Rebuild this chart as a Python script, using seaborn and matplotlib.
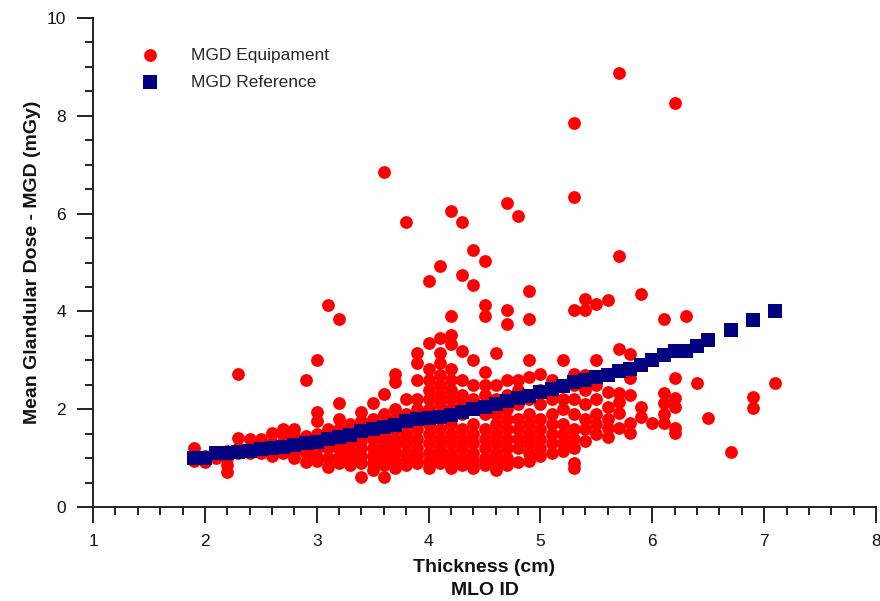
import matplotlib
matplotlib.use("Agg")
import matplotlib.pyplot as plt
from matplotlib.ticker import MultipleLocator
import pandas as pd
import seaborn as sns

# Reference MGD curve (one value per thickness)
ref_thickness = [1.9, 2.0, 2.1, 2.2, 2.3, 2.4, 2.5, 2.6, 2.7, 2.8, 2.9, 3.0, 3.1, 3.2,
                 3.3, 3.4, 3.5, 3.6, 3.7, 3.8, 3.9, 4.0, 4.1, 4.2, 4.3, 4.4, 4.5, 4.6,
                 4.7, 4.8, 4.9, 5.0, 5.1, 5.2, 5.3, 5.4, 5.5, 5.6, 5.7, 5.8, 5.9, 6.0,
                 6.1, 6.2, 6.3, 6.4, 6.5, 6.7, 6.9, 7.1]
ref_mgd = [1.0, 1.0, 1.1, 1.1, 1.12, 1.15, 1.18, 1.2, 1.22, 1.27, 1.3, 1.33, 1.4, 1.43,
           1.48, 1.55, 1.6, 1.63, 1.68, 1.75, 1.8, 1.82, 1.85, 1.88, 1.95, 2.0, 2.05, 2.1,
           2.17, 2.22, 2.28, 2.35, 2.42, 2.48, 2.55, 2.6, 2.66, 2.7, 2.78, 2.83, 2.9, 3.0,
           3.1, 3.2, 3.2, 3.3, 3.42, 3.62, 3.82, 4.0]

# Measured MGD of the equipment, grouped by thickness
equip_thickness = [1.9, 2.0, 2.1, 2.2, 2.3, 2.4, 2.5, 2.6, 2.7, 2.8, 2.9, 3.0, 3.1, 3.2,
                   3.3, 3.4, 3.5, 3.6, 3.7, 3.8, 3.9, 4.0, 4.1, 4.2, 4.3, 4.4, 4.5, 4.6,
                   4.7, 4.8, 4.9, 5.0, 5.1, 5.2, 5.3, 5.4, 5.5, 5.6, 5.7, 5.8, 5.9, 6.0,
                   6.1, 6.2, 6.3, 6.4, 6.5, 6.7, 6.9, 7.1]
equip_mgd = [
    [1.2, 1.0, 0.95],
    [1.05, 0.93],
    [1.1, 1.0],
    [1.15, 1.0, 0.85, 0.72],
    [2.72, 1.42, 1.2, 1.1],
    [1.4, 1.2, 1.1],
    [1.4, 1.3, 1.1],
    [1.52, 1.3, 1.15, 1.05],
    [1.6, 1.48, 1.3, 1.1],
    [1.6, 1.45, 1.25, 1.1, 1.0],
    [2.6, 1.45, 1.3, 1.1, 0.93],
    [3.0, 1.95, 1.75, 1.5, 1.3, 1.2, 1.03, 0.95],
    [4.13, 1.6, 1.4, 1.2, 1.0, 0.82],
    [3.84, 2.13, 1.8, 1.6, 1.4, 1.2, 1.05, 0.9],
    [1.7, 1.5, 1.3, 1.15, 1.0, 0.85],
    [1.95, 1.75, 1.55, 1.35, 1.2, 1.05, 0.9, 0.62],
    [2.12, 1.8, 1.6, 1.4, 1.2, 1.05, 0.9, 0.76],
    [6.85, 2.32, 1.9, 1.7, 1.5, 1.3, 1.15, 1.0, 0.85, 0.62],
    [2.73, 2.55, 2.0, 1.8, 1.6, 1.4, 1.25, 1.1, 0.95, 0.8],
    [5.83, 2.2, 1.9, 1.7, 1.5, 1.3, 1.1, 0.95, 0.85],
    [3.14, 2.94, 2.6, 2.2, 2.0, 1.8, 1.6, 1.4, 1.2, 1.05, 0.9],
    [4.62, 3.35, 2.83, 2.6, 2.4, 2.2, 2.0, 1.7, 1.5, 1.3, 1.1, 0.95, 0.8],
    [4.92, 3.45, 3.14, 2.94, 2.7, 2.5, 2.3, 2.1, 1.9, 1.6, 1.4, 1.2, 1.05, 0.9],
    [6.05, 3.91, 3.52, 3.33, 2.83, 2.6, 2.4, 2.2, 2.0, 1.7, 1.5, 1.3, 1.1, 0.95, 0.8],
    [5.83, 4.75, 3.2, 2.6, 2.3, 2.1, 1.9, 1.6, 1.4, 1.2, 1.0, 0.85],
    [5.26, 4.53, 3.0, 2.5, 2.2, 2.0, 1.7, 1.5, 1.3, 1.1, 0.95, 0.8],
    [5.04, 4.13, 3.91, 2.77, 2.5, 2.3, 2.1, 1.9, 1.6, 1.4, 1.2, 1.0, 0.85],
    [3.14, 2.5, 2.2, 1.9, 1.7, 1.5, 1.3, 1.1, 0.95, 0.76],
    [6.22, 4.03, 3.74, 2.6, 2.3, 2.0, 1.8, 1.6, 1.4, 1.2, 1.0, 0.85],
    [5.95, 2.6, 2.4, 2.1, 1.8, 1.6, 1.4, 1.2, 0.93],
    [4.42, 3.84, 3.0, 2.66, 2.2, 1.9, 1.7, 1.5, 1.3, 1.1, 0.95],
    [2.73, 2.4, 2.1, 1.8, 1.6, 1.4, 1.2, 1.05],
    [2.6, 2.2, 1.9, 1.7, 1.5, 1.3, 1.1],
    [3.0, 2.5, 2.2, 2.0, 1.7, 1.5, 1.3, 1.15],
    [7.85, 6.33, 4.03, 2.73, 2.5, 2.2, 1.9, 1.6, 1.4, 1.2, 0.89, 0.8],
    [4.25, 4.03, 2.7, 2.4, 2.1, 1.8, 1.6, 1.35],
    [4.15, 3.0, 2.5, 2.2, 1.9, 1.7, 1.5],
    [4.23, 2.36, 2.05, 1.8, 1.61, 1.44],
    [8.87, 5.13, 3.24, 2.33, 2.15, 1.93, 1.61],
    [3.13, 2.63, 2.3, 1.71, 1.52],
    [4.35, 2.05, 1.85],
    [1.71],
    [3.84, 2.33, 2.12, 1.9, 1.71],
    [8.26, 2.63, 2.22, 2.05, 1.61, 1.52],
    [3.91],
    [2.54],
    [1.81],
    [1.13],
    [2.24, 2.02],
    [2.54],
]

df_equip = pd.DataFrame(
    [(t, v) for t, vals in zip(equip_thickness, equip_mgd) for v in vals],
    columns=["thickness", "mgd"])
df_ref = pd.DataFrame({"thickness": ref_thickness, "mgd": ref_mgd})

sns.set_style("ticks")
plt.rcParams["font.family"] = ["Liberation Sans", "DejaVu Sans"]

fig = plt.figure(figsize=(8.8, 6.01), dpi=100)
ax = fig.add_axes([0.1057, 0.1564, 0.8898, 0.8136])

sns.scatterplot(data=df_equip, x="thickness", y="mgd", ax=ax, color="#ff0000",
                marker="o", s=85, linewidth=0, label="MGD Equipament")
sns.scatterplot(data=df_ref, x="thickness", y="mgd", ax=ax, color="#000080",
                marker="s", s=100, linewidth=0, label="MGD Reference")

ax.set_xlim(1, 8)
ax.set_ylim(0, 10)
ax.xaxis.set_major_locator(MultipleLocator(1))
ax.xaxis.set_minor_locator(MultipleLocator(0.2))
ax.yaxis.set_major_locator(MultipleLocator(2))
ax.yaxis.set_minor_locator(MultipleLocator(0.5))
ax.tick_params(which="major", length=11.5, width=1.4, labelsize=12.5, pad=8,
               color="#222222", labelcolor="#111111")
ax.tick_params(which="minor", length=6, width=1.4, color="#222222")
sns.despine(ax=ax)
for side in ["left", "bottom"]:
    ax.spines[side].set_linewidth(1.4)
    ax.spines[side].set_color("#222222")

ax.set_xlabel("Thickness (cm)\nMLO ID", fontsize=14, fontweight="bold",
              labelpad=7, linespacing=1.5, color="#111111")
ax.set_ylabel("Mean Glandular Dose - MGD (mGy)", fontsize=14, fontweight="bold",
              labelpad=4, color="#111111")

ax.legend(loc="upper left", bbox_to_anchor=(0.05, 0.94), frameon=False,
          fontsize=12.5, borderpad=0, borderaxespad=0, handletextpad=1.4,
          labelspacing=0.7, markerscale=1.0)

fig.savefig("out.png", dpi=100)
